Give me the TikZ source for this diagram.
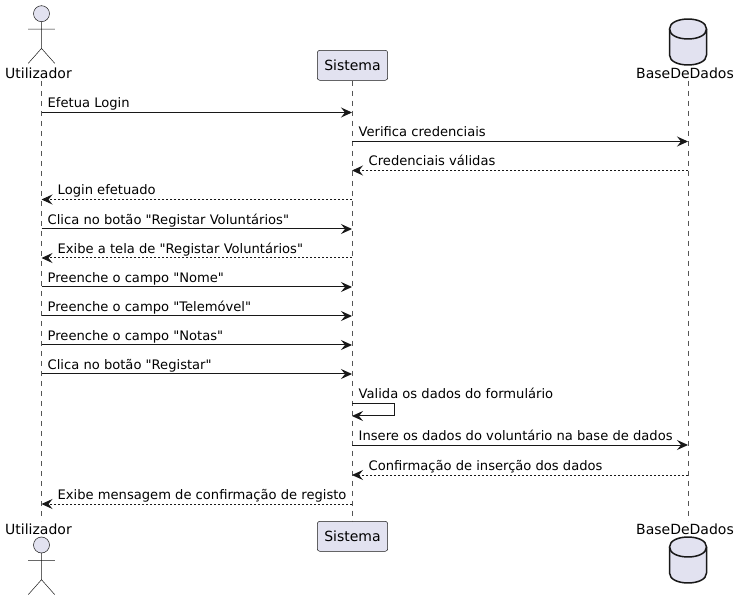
\documentclass[tikz,border=0pt]{standalone}
\usepackage{fontspec}
\setmainfont{DejaVu Sans}[Ligatures=TeXOff]
\usetikzlibrary{arrows.meta,shapes.geometric}
\definecolor{partfill}{HTML}{E2E2F0}
\definecolor{partline}{HTML}{181818}
\definecolor{lifecol}{HTML}{555555}
\tikzset{
  x=1pt,y=-1pt,
  lifeline/.style={draw=lifecol,line width=0.5pt,dash pattern=on 5pt off 5pt},
  msg/.style={draw=partline,line width=1pt,-{Stealth[length=11pt,width=10pt,inset=4pt,fill=partline]}},
  reply/.style={msg,dash pattern=on 2pt off 2pt},
  msgtext/.style={anchor=base west,inner sep=0pt,yshift=-0.5pt,font=\fontsize{13.1}{15}\selectfont,text=black},
  parttext/.style={inner sep=0pt,font=\fontsize{14}{16}\selectfont,text=black},
  partbox/.style={draw=partline,fill=partfill,line width=0.5pt,rounded corners=2.5pt,minimum width=70.4pt,minimum height=30pt,inner sep=0pt,font=\fontsize{14}{16}\selectfont,text=black},
  actorline/.style={draw=partline,line width=0.5pt},
  actorhead/.style={draw=partline,fill=partfill,line width=0.5pt,circle,minimum size=16pt,inner sep=0pt},
  dbshape/.style={draw=partline,fill=partfill,line width=1.5pt},
}
\newcommand{\dbdraw}[2]{% centre x, top y
  \path[dbshape] (#1-18.5,#2+10) .. controls (#1-18.5,#2-3.3) and (#1+18.5,#2-3.3) .. (#1+18.5,#2+10)
    -- (#1+18.5,#2+36) .. controls (#1+18.5,#2+49.3) and (#1-18.5,#2+49.3) .. (#1-18.5,#2+36) -- cycle;
  \path[dbshape,fill=none] (#1-18.5,#2+10) .. controls (#1-18.5,#2+23.3) and (#1+18.5,#2+23.3) .. (#1+18.5,#2+10);
}
\newcommand{\actordraw}[2]{% centre x, head centre y
  \node[actorhead] at (#1,#2) {};
  \path[actorline] (#1,#2+8) -- (#1,#2+34.7)
    (#1-13.3,#2+15.5) -- (#1+13.3,#2+15.5)
    (#1-13.3,#2+49.7) -- (#1,#2+34.7) -- (#1+13.3,#2+49.7);
}
\begin{document}
\begin{tikzpicture}
\useasboundingbox (0,0) rectangle (739,601);
% lifelines
\coordinate (UT) at (41.5,81);
\coordinate (UB) at (41.5,521);
\coordinate (DT) at (688,81);
\coordinate (DB) at (688,521);
\node[partbox] (Stop) at (352.5,65.3) {Sistema};
\node[partbox] (Sbot) at (352.5,536.3) {Sistema};
\path[lifeline] (UT) -- (UB);
\path[lifeline] (Stop.south) -- (Sbot.north);
\path[lifeline] (DT) -- (DB);
% actors
\actordraw{41.5}{13.7}
\actordraw{41.5}{545}
\node[parttext] (Utop) at (38.5,73) {Utilizador};
\node[parttext] (Ubot) at (38.5,529) {Utilizador};
% databases
\dbdraw{688}{19}
\dbdraw{688}{537}
\node[parttext] (Dtop) at (685,73) {BaseDeDados};
\node[parttext] (Dbot) at (685,529) {BaseDeDados};
% anchors on lifelines
\foreach \n/\y in {1/112.5,2/141.5,3/170.5,4/199.5,5/229,6/258,7/287,8/316,9/345,10/374,11/403.5,12/416,13/445,14/475,15/504}{
  \coordinate (u\n) at (41.5,\y);
  \coordinate (s\n) at (352,\y);
  \coordinate (d\n) at (688,\y);
}
\coordinate (selfA) at (394.5,403.5);
\coordinate (selfB) at (394.5,416);
% messages
\draw[msg] (u1) -- (s1);
\node[msgtext] (m1) at (47.5,107.5) {Efetua Login};
\draw[msg] (s2) -- (d2);
\node[msgtext] (m2) at (358.5,136.5) {Verifica credenciais};
\draw[reply] (d3) -- (s3);
\node[msgtext] (m3) at (368.5,165.5) {Credenciais válidas};
\draw[reply] (s4) -- (u4);
\node[msgtext] (m4) at (57.5,194.5) {Login efetuado};
\draw[msg] (u5) -- (s5);
\node[msgtext] (m5) at (47.5,224) {Clica no botão "Registar Voluntários"};
\draw[reply] (s6) -- (u6);
\node[msgtext] (m6) at (57.5,253) {Exibe a tela de "Registar Voluntários"};
\draw[msg] (u7) -- (s7);
\node[msgtext] (m7) at (47.5,282) {Preenche o campo "Nome"};
\draw[msg] (u8) -- (s8);
\node[msgtext] (m8) at (47.5,311) {Preenche o campo "Telemóvel"};
\draw[msg] (u9) -- (s9);
\node[msgtext] (m9) at (47.5,340) {Preenche o campo "Notas"};
\draw[msg] (u10) -- (s10);
\node[msgtext] (m10) at (47.5,369) {Clica no botão "Registar"};
\draw[msg] (s11) -- (selfA) -- (selfB) -- (s12);
\node[msgtext] (m11) at (358.5,398.5) {Valida os dados do formulário};
\draw[msg] (s13) -- (d13);
\node[msgtext] (m13) at (358.5,440) {Insere os dados do voluntário na base de dados};
\draw[reply] (d14) -- (s14);
\node[msgtext] (m14) at (368.5,470) {Confirmação de inserção dos dados};
\draw[reply] (s15) -- (u15);
\node[msgtext] (m15) at (57.5,499) {Exibe mensagem de confirmação de registo};
\end{tikzpicture}
\end{document}
